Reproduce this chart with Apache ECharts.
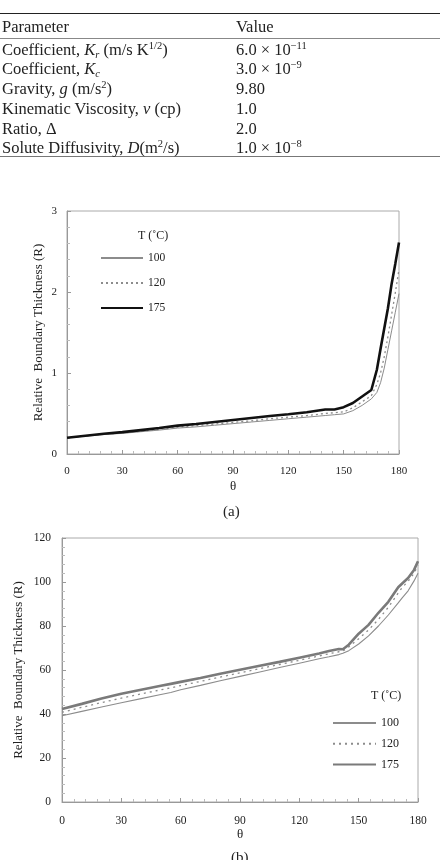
<!DOCTYPE html>
<html>
<head>
<meta charset="utf-8">
<script src="https://cdn.jsdelivr.net/npm/echarts@6/dist/echarts.min.js"></script>
<style>
html,body{margin:0;padding:0;background:#fff;}
#wrap{position:relative;width:440px;height:860px;overflow:hidden;}
#chart{position:absolute;left:0;top:0;width:440px;height:860px;}
#table{position:absolute;left:0;top:0;width:440px;height:170px;font-family:"Liberation Serif","Times New Roman",serif;font-size:16.5px;color:#222;z-index:2;}
.rule{position:absolute;left:0;width:440px;}
.row{position:absolute;left:0;width:440px;height:18px;line-height:18px;white-space:nowrap;}
.c1{position:absolute;left:2px;top:0;}
.c2{position:absolute;left:236px;top:0;}
sup{font-size:10.5px;vertical-align:6px;line-height:0;}
sub{font-size:10.5px;vertical-align:-3px;line-height:0;}
</style>
</head>
<body>
<div id="wrap">
<div id="chart"></div>
<div id="table"></div>
</div>
<script>
// ---------- table content ----------
var tableHeader = ["Parameter", "Value"];
var tableParams = [
  'Coefficient, <i>K</i><sub><i>r</i></sub> (m/s K<sup>1/2</sup>)',
  'Coefficient, <i>K</i><sub><i>c</i></sub>',
  'Gravity, <i>g</i> (m/s<sup>2</sup>)',
  'Kinematic Viscosity, <i>\u03bd</i> (cp)',
  'Ratio, \u0394',
  'Solute Diffusivity, <i>D</i>(m<sup>2</sup>/s)'
];
var tableValues = [
  '6.0 \u00d7 10<sup>\u221211</sup>',
  '3.0 \u00d7 10<sup>\u22129</sup>',
  '9.80',
  '1.0',
  '2.0',
  '1.0 \u00d7 10<sup>\u22128</sup>'
];

// ---------- chart (a) data ----------
var thetaA = [0,10,20,30,40,50,60,70,80,90,100,110,120,130,140,145,150,155,160,165,168,170,172,174,176,178,180];
var a100 = [0.20,0.22,0.24,0.255,0.275,0.295,0.32,0.335,0.355,0.375,0.395,0.415,0.435,0.455,0.475,0.485,0.495,0.535,0.60,0.68,0.76,0.88,1.06,1.29,1.52,1.75,1.98];
var a120 = [0.20,0.222,0.245,0.26,0.283,0.305,0.33,0.35,0.37,0.39,0.41,0.435,0.455,0.475,0.50,0.51,0.52,0.57,0.645,0.72,0.86,1.0,1.2,1.45,1.72,1.99,2.28];
var a175 = [0.20,0.225,0.25,0.27,0.295,0.32,0.35,0.37,0.395,0.42,0.445,0.47,0.49,0.515,0.55,0.55,0.578,0.63,0.71,0.79,1.04,1.3,1.55,1.8,2.1,2.35,2.61];

// ---------- chart (b) data ----------
var thetaB = [0,10,20,30,40,50,55,60,70,80,90,100,110,120,130,135,140,142,145,150,155,160,165,170,172,175,178,180];
var b100 = [39.2,41.2,43.2,45.1,47.0,48.9,49.8,51.0,53.0,55.1,57.1,59.1,61.1,63.1,65.1,66.0,67.0,67.6,68.8,71.8,75.5,80.0,85.0,90.5,92.8,96.0,100.5,104.0];
var b120 = [40.8,43.0,45.2,47.2,49.1,51.0,51.9,52.9,54.8,56.8,58.7,60.6,62.5,64.4,66.4,67.4,68.3,68.6,70.5,74.2,78.2,83.0,88.5,95.0,97.5,100.3,104.0,107.5];
var b175 = [42.3,44.6,47.0,49.2,51.0,52.8,53.7,54.6,56.4,58.3,60.1,61.9,63.7,65.6,67.5,68.6,69.5,69.4,71.5,76.5,80.5,86.0,91.0,97.6,99.3,101.8,105.5,109.4];

var seriesNames = ["100", "120", "175"];
var legendTitle = "T (\u02daC)";
var xTitle = "\u03b8";
var yTitle = "Relative  Boundary Thickness (R)";

// ---------- build table ----------
(function(){
  var t = document.getElementById('table');
  var html = '';
  html += '<div class="rule" style="top:12.5px;height:1.6px;background:#222;"></div>';
  html += '<div class="rule" style="top:38px;height:1px;background:#888;"></div>';
  html += '<div class="rule" style="top:155.5px;height:1.6px;background:#777;"></div>';
  html += '<div class="row" style="top:' + (26.5-9) + 'px"><span class="c1">' + tableHeader[0] + '</span><span class="c2">' + tableHeader[1] + '</span></div>';
  var centers = [50, 69, 89, 109, 129, 148];
  for (var i = 0; i < tableParams.length; i++) {
    html += '<div class="row" style="top:' + (centers[i]-9) + 'px"><span class="c1">' + tableParams[i] + '</span><span class="c2">' + tableValues[i] + '</span></div>';
  }
  t.innerHTML = html;
})();

function pairs(xs, ys){ return xs.map(function(x,i){ return [x, ys[i]]; }); }

var FONT = "Liberation Serif";
var txt = '#222';
var axisCol = '#999';

function xAxisCfg(gi, margin, fs){
  return {
    type:'value', gridIndex:gi, min:0, max:180, interval:30,
    axisLine:{show:true, lineStyle:{color:axisCol, width:1}},
    axisTick:{show:true, inside:true, length:4, lineStyle:{color:axisCol}},
    minorTick:{show:true, splitNumber:5, length:3, lineStyle:{color:'#bbb'}},
    axisLabel:{fontFamily:FONT, fontSize:fs, color:txt, margin:margin},
    splitLine:{show:false},
    name:xTitle, nameLocation:'middle', nameGap:26, nameMoveOverlap:false,
    nameTextStyle:{fontFamily:FONT, fontSize:13, color:txt}
  };
}
function yAxisCfg(gi, max, interval, margin, gap, fs){
  return {
    type:'value', gridIndex:gi, min:0, max:max, interval:interval,
    axisLine:{show:true, lineStyle:{color:axisCol, width:1}},
    axisTick:{show:true, inside:true, length:4, lineStyle:{color:axisCol}},
    minorTick:{show:true, splitNumber:5, length:3, lineStyle:{color:'#bbb'}},
    axisLabel:{fontFamily:FONT, fontSize:fs, color:txt, margin:margin},
    splitLine:{show:false},
    name:yTitle, nameLocation:'middle', nameGap:gap, nameRotate:90, nameMoveOverlap:false,
    nameTextStyle:{fontFamily:FONT, fontSize:13, color:txt}
  };
}

function lineSeries(name, xi, data, color, width, type){
  return {
    type:'line', name:name, xAxisIndex:xi, yAxisIndex:xi,
    data:data, symbol:'none', showSymbol:false, smooth:false, silent:true,
    lineStyle:{color:color, width:width, type:type||'solid'},
    itemStyle:{color:color}
  };
}

var legendBase = {
  orient:'vertical', itemHeight:14, itemTextGap:2, selectedMode:false,
  itemStyle:{opacity:0, borderWidth:0}
};

var chart = echarts.init(document.getElementById('chart'), null, {renderer:'canvas'});
var option = {
  animation:false,
  backgroundColor:'#fff',
  grid:[
    {left:67, top:211, width:332, height:243, show:true, borderColor:'#aaa', borderWidth:1, backgroundColor:'transparent'},
    {left:62, top:538, width:356, height:264, show:true, borderColor:'#aaa', borderWidth:1, backgroundColor:'transparent'}
  ],
  xAxis:[xAxisCfg(0,12,11), xAxisCfg(1,13,11.5)],
  yAxis:[yAxisCfg(0,3,1,10,22,11), yAxisCfg(1,120,20,11,37,11.5)],
  legend:[
    Object.assign({}, legendBase, {
      data:[seriesNames[0], seriesNames[1], seriesNames[2]],
      left:95, top:247, itemWidth:42, itemGap:13,
      textStyle:{fontFamily:FONT, fontSize:11.5, color:txt}
    }),
    Object.assign({}, legendBase, {
      data:[seriesNames[0]+'b', seriesNames[1]+'b', seriesNames[2]+'b'],
      formatter:function(n){ return n.replace('b',''); },
      left:327, top:712, itemWidth:43, itemGap:8.8,
      textStyle:{fontFamily:FONT, fontSize:12, color:txt}
    })
  ],
  graphic:[
    {type:'text', left:138, top:230, style:{text:legendTitle, font:'12px "Liberation Serif"', fill:txt}},
    {type:'text', left:371, top:690, style:{text:legendTitle, font:'12px "Liberation Serif"', fill:txt}},
    {type:'text', left:223, top:505, style:{text:'(a)', font:'15px "Liberation Serif"', fill:txt}},
    {type:'text', left:231, top:851, style:{text:'(b)', font:'15px "Liberation Serif"', fill:txt}}
  ],
  series:[
    lineSeries(seriesNames[0], 0, pairs(thetaA, a100), '#8c8c8c', 1),
    lineSeries(seriesNames[1], 0, pairs(thetaA, a120), '#8c8c8c', 1.3, [2,3]),
    lineSeries(seriesNames[2], 0, pairs(thetaA, a175), '#111', 2.6),
    lineSeries(seriesNames[0]+'b', 1, pairs(thetaB, b100), '#8c8c8c', 1.1),
    lineSeries(seriesNames[1]+'b', 1, pairs(thetaB, b120), '#8c8c8c', 1.3, [2,4]),
    lineSeries(seriesNames[2]+'b', 1, pairs(thetaB, b175), '#7a7a7a', 2.6)
  ]
};
chart.setOption(option);
</script>
</body>
</html>
